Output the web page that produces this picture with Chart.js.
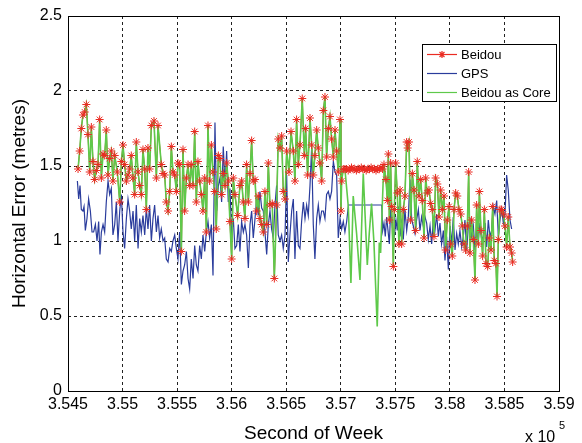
<!DOCTYPE html>
<html>
<head>
<meta charset="utf-8">
<script src="https://cdn.jsdelivr.net/npm/chart.js@4.4.1/dist/chart.umd.min.js"></script>
<style>
  html, body { margin: 0; padding: 0; background: #fff; }
  canvas { display: block; }
</style>
</head>
<body>
<canvas id="horiz_error" width="582" height="443"></canvas>
<script>
const xTickLabels = ["3.545","3.55","3.555","3.56","3.565","3.57","3.575","3.58","3.585","3.59"];
const yTickLabels = ["0","0.5","1","1.5","2","2.5"];
const seriesNames = ["Beidou", "GPS", "Beidou as Core"];

// Beidou (seconds of week, metres)
const beidouTime = [
  354592,354607,354622,354637,354653,354668,354683,354699,354714,354729,
  354744,354760,354775,354790,354806,354821,354836,354851,354867,354882,
  354897,354912,354928,354952,354974,354989,355004,355019,355035,355050,
  355065,355080,355096,355111,355126,355142,355157,355172,355187,355203,
  355218,355233,355248,355264,355288,355310,355325,355355,355371,355386,
  355401,355417,355432,355447,355462,355478,355493,355508,355523,355539,
  355554,355569,355585,355600,355615,355630,355646,355661,355676,355691,
  355707,355722,355737,355753,355768,355783,355798,355814,355829,355844,
  355859,
  355878,355893,355908,355924,355939,355954,355969,355984,356000,356015,
  356030,356055,356076,356091,356107,356122,356137,356153,356168,356183,
  356198,356214,356229,356244,356259,356275,356290,356305,356321,356336,
  356351,356372,356391,356412,356427,356443,356458,356473,356489,356504,
  356525,356544,356565,356580,356595,356611,356626,356647,356666,356678,
  356696,356718,356733,356748,356763,356779,356794,356809,356825,356840,
  356855,356870,356886,356901,356916,356932,356947,356962,356977,356993,
  357002,357008,357023,
  357038,357053,357068,357083,357098,357113,357128,357143,357158,357173,
  357188,357203,357218,357233,357248,357263,357278,357293,357308,357323,
  357338,357353,357368,357383,
  357396,357414,357427,357436,357445,357457,357466,357482,357491,357503,
  357518,357533,357543,357558,357573,357588,357604,357613,357625,357640,
  357656,357671,357686,357701,357717,357732,357747,357763,357778,357793,
  357808,357824,357839,357854,357869,357885,357900,357915,357931,357946,
  357961,357976,357992,358007,358022,358038,358053,358068,358083,358099,
  358114,358129,358144,358160,358172,358184,358199,358215,358230,358245,
  358261,358270,358285,358300,358316,358331,358346,358361,358377,358392,
  358407,358422,358432,358444,358459,358474,358490,358505,358520,358535,
  358551,358566,358575
];
const beidouErr = [
  1.48,1.60,1.75,1.84,1.86,1.91,1.71,1.46,1.76,1.53,
  1.41,1.47,1.51,1.81,1.42,1.58,1.57,1.74,1.44,1.55,
  1.60,1.40,1.57,1.46,1.26,1.53,1.64,1.51,1.40,1.44,
  1.48,1.57,1.42,1.31,1.66,1.46,1.37,1.31,1.61,1.48,
  1.21,1.62,1.48,1.77,1.80,1.42,1.77,1.51,1.45,1.44,
  1.26,1.20,1.33,1.63,1.46,1.44,1.33,1.52,1.51,0.93,
  1.61,1.20,1.42,1.51,1.37,1.51,1.37,1.73,1.26,1.53,
  1.40,1.31,1.20,1.42,1.06,1.77,1.40,1.64,1.46,1.33,
  1.08,
  1.57,1.55,1.31,1.45,1.37,1.52,1.40,1.13,0.88,1.42,
  1.31,1.17,1.37,1.40,1.26,1.15,1.51,1.26,1.45,1.67,
  1.40,1.41,1.20,1.30,1.15,1.11,1.06,1.33,1.11,1.52,
  1.24,1.25,0.75,1.24,1.68,1.62,1.70,1.33,1.28,1.60,
  1.46,1.73,1.60,1.40,1.81,1.51,1.64,1.95,1.57,1.75,
  1.44,1.82,1.64,1.44,1.57,1.74,1.62,1.52,1.40,1.87,
  1.96,1.56,1.75,1.83,1.68,1.56,1.74,1.60,1.46,1.81,
  1.20,1.40,1.48,
  1.48,1.48,1.47,1.48,1.49,1.48,1.48,1.47,1.48,1.48,
  1.49,1.48,1.48,1.47,1.48,1.48,1.49,1.48,1.48,1.47,
  1.48,1.48,1.49,1.48,
  1.51,1.41,1.27,1.58,1.14,1.52,1.23,0.83,1.21,1.52,
  1.32,0.98,1.34,0.98,1.21,1.30,1.66,1.62,1.66,1.14,
  1.45,1.34,1.07,1.53,1.30,1.41,1.27,1.02,1.42,1.32,
  1.34,1.25,1.21,1.03,1.42,1.38,1.16,1.34,1.21,1.30,
  0.94,1.14,1.23,0.98,0.90,1.21,1.32,1.30,1.21,1.18,
  1.10,0.98,0.94,1.10,1.46,0.92,1.14,1.01,0.74,1.24,
  0.98,1.33,1.07,0.90,1.21,0.85,0.83,1.02,0.94,1.23,
  0.87,0.85,0.63,1.01,1.21,1.21,1.18,1.10,0.96,1.16,
  0.96,0.92,0.86
];

// GPS
const gpsTime = [
  354586,354598,354610,354622,354637,354647,354659,354674,354689,354705,
  354720,354735,354751,354766,354781,354793,354806,354821,354836,354851,
  354867,354882,354897,354912,354928,354943,354958,354974,354989,355004,
  355019,355035,355050,355065,355080,355096,355111,355126,355142,355157,
  355172,355187,355203,355218,355233,355248,355264,355279,355294,355310,
  355325,355340,355355,355371,355386,355401,355417,355432,355447,355462,
  355478,355493,355508,355523,355539,355554,355569,355585,355600,355615,
  355630,355646,355661,355676,355691,355707,355722,355737,355753,355768,
  355783,355798,355814,355829,355847,
  355862,355878,355893,355908,355923,355939,355954,355969,355984,356000,
  356015,356030,356046,356061,356076,356091,356107,356122,356137,356153,
  356168,356183,356198,356214,356229,356244,356259,356275,356290,356305,
  356321,356336,356351,356366,356382,356397,356412,356427,356443,356458,
  356473,356489,356504,356519,356534,356550,356565,356580,356595,356611,
  356626,356641,356657,356672,356687,356702,356718,356733,356748,356763,
  356779,356794,356809,356825,356840,356855,356870,356886,356901,356916,
  356932,356947,356962,356977,356993,357008,357023,357038,357054,357070,
  357375,
  357384,357396,357408,357420,357433,357445,357457,357469,357482,357494,
  357506,357518,357530,357543,357558,357573,357588,357604,357619,357634,
  357650,357665,357680,357695,357711,357726,357741,357756,357772,357787,
  357802,357818,357833,357848,357863,357879,357894,357909,357924,357940,
  357955,357970,357986,358001,358016,358031,358047,358062,358077,358092,
  358108,358123,358138,358154,358169,358184,358199,358215,358230,358245,
  358261,358276,358291,358306,358322,358337,358352,358367,358383,358398,
  358413,358429,358444,358459,358474,358490,358505,358520,358535,358551,
  358566
];
const gpsErr = [
  1.40,1.28,1.37,1.21,1.20,1.23,1.07,1.15,1.28,1.20,
  1.06,1.06,1.11,1.00,1.13,0.91,1.06,1.11,1.06,1.26,
  1.40,1.31,1.35,1.04,1.11,1.26,1.00,1.20,1.31,1.06,
  0.95,1.15,1.28,1.20,1.08,1.20,1.00,1.24,0.95,1.15,
  1.06,1.17,1.04,1.22,1.08,1.24,1.00,1.15,1.24,1.06,
  1.17,1.02,1.08,1.00,1.02,0.88,0.86,0.95,0.93,1.00,
  1.04,0.95,0.88,1.06,0.71,0.80,0.84,0.93,0.75,0.68,
  0.88,0.75,0.97,0.84,0.80,0.97,0.88,1.04,0.93,1.06,
  1.13,1.02,1.11,0.77,1.79,
  1.20,1.37,1.42,1.26,1.63,1.37,1.60,1.26,1.35,1.04,
  1.15,0.95,0.97,1.11,0.93,1.13,1.06,1.11,1.04,0.82,
  1.11,1.20,1.02,1.15,1.28,1.17,1.33,1.22,1.20,1.06,
  0.91,1.11,1.20,1.08,1.02,1.24,1.37,1.04,1.00,1.04,
  0.95,1.04,1.44,0.86,1.04,1.20,1.28,0.88,1.20,0.97,
  0.95,1.13,1.26,1.15,1.24,1.17,1.37,1.62,1.11,0.88,
  1.15,1.24,1.13,1.20,1.20,1.15,1.31,1.33,1.28,1.33,
  1.53,1.46,1.44,1.02,1.15,1.08,1.13,1.06,1.13,1.24,
  1.24,
  1.07,1.12,1.03,1.16,1.07,0.98,1.21,1.14,1.01,1.05,
  1.14,1.07,1.23,1.03,1.12,1.01,1.21,1.07,1.16,1.41,
  1.14,1.10,1.05,1.14,1.21,1.07,1.16,1.10,1.16,1.12,
  1.01,1.10,0.98,1.14,1.07,1.18,1.03,1.12,0.98,1.07,
  0.87,1.03,0.81,1.10,0.98,1.16,0.94,1.05,0.98,1.07,
  0.96,1.03,1.14,0.94,1.10,1.14,1.03,1.10,0.94,1.07,
  1.01,1.12,1.01,1.03,1.12,0.96,1.14,1.03,1.07,1.23,
  1.18,1.27,1.03,1.14,1.21,1.12,1.18,1.44,1.34,1.14,
  1.08
];

// Beidou as Core: same as Beidou except where Beidou sits flat
const coreGapTime = [357038,357069,357093,357114,357145,357176,357206,357243,357261,357282,357304,357334,357353,357365,357389];
const coreGapErr  = [1.48,1.23,0.72,1.30,1.05,0.74,1.45,0.84,1.05,1.25,0.99,0.43,0.99,0.92,1.41];

function to_points(ts, vs){
    return ts.map((t, i) => ({x: t, y: vs[i]}));
}

const beidou_pts = to_points(beidouTime, beidouErr);
const gps_pts = to_points(gpsTime, gpsErr);
const core_pts = beidou_pts
    .filter(p => p.x < coreGapTime[0] || p.x > coreGapTime[coreGapTime.length - 1])
    .concat(to_points(coreGapTime, coreGapErr))
    .sort((a, b) => a.x - b.x);

const RED = "#ea2b22";
const BLUE = "#2a3c9c";
const GREEN = "#5ec94a";
const FONT = "'Liberation Sans', Arial, Helvetica, sans-serif";

Chart.defaults.font.family = FONT;
Chart.defaults.color = "#000";

const framePlugin = {
    id: "frame",
    afterDatasetsDraw(chart){
        const a = chart.chartArea;
        const ctx = chart.ctx;
        ctx.save();
        ctx.strokeStyle = "#000";
        ctx.lineWidth = 1;
        ctx.strokeRect(Math.round(a.left) + 0.5, Math.round(a.top) + 0.5,
                       Math.round(a.right - a.left), Math.round(a.bottom - a.top));
        ctx.restore();
    }
};

const legendPlugin = {
    id: "matlabLegend",
    afterDraw(chart){
        const a = chart.chartArea;
        const ctx = chart.ctx;
        const w = 134, h = 57;
        const x0 = Math.round(a.right) - 3 - w, y0 = Math.round(a.top) + 28;
        ctx.save();
        ctx.fillStyle = "#fff";
        ctx.fillRect(x0, y0, w, h);
        ctx.strokeStyle = "#000";
        ctx.lineWidth = 1;
        ctx.strokeRect(x0 + 0.5, y0 + 0.5, w, h);
        const cols = [RED, BLUE, GREEN];
        ctx.font = "13px " + FONT;
        ctx.textBaseline = "middle";
        for (let i = 0; i < 3; i++){
            const y = y0 + 10.5 + i * 19;
            ctx.strokeStyle = cols[i];
            ctx.lineWidth = 1.2;
            ctx.beginPath();
            ctx.moveTo(x0 + 5, y);
            ctx.lineTo(x0 + 35, y);
            ctx.stroke();
            if (i === 0){
                ctx.fillStyle = RED;
                Chart.helpers.drawPoint(ctx, {pointStyle: "star", radius: 3.5, borderWidth: 1, rotation: 0}, x0 + 20, y);
            }
            ctx.fillStyle = "#000";
            ctx.fillText(seriesNames[i], x0 + 39, y + 1);
        }
        // x 10^5 multiplier
        ctx.font = "16px " + FONT;
        ctx.textBaseline = "alphabetic";
        ctx.fillText("x 10", 525, 442);
        ctx.font = "11px " + FONT;
        ctx.fillText("5", 559, 429);
        ctx.restore();
    }
};

new Chart(document.getElementById("horiz_error"), {
    type: "line",
    data: {
        datasets: [
            {
                label: seriesNames[0],
                data: beidou_pts,
                borderColor: RED,
                borderWidth: 1,
                pointRadius: 0,
                order: 4
            },
            {
                label: seriesNames[1],
                data: gps_pts,
                borderColor: BLUE,
                borderWidth: 1.2,
                pointRadius: 0,
                order: 3
            },
            {
                label: seriesNames[2],
                data: core_pts,
                borderColor: GREEN,
                borderWidth: 1.6,
                pointRadius: 0,
                order: 2
            },
            {
                label: "Beidou markers",
                data: beidou_pts,
                showLine: false,
                pointStyle: "star",
                pointRadius: 4,
                pointBorderWidth: 1,
                pointBorderColor: RED,
                pointBackgroundColor: RED,
                order: 1
            }
        ]
    },
    options: {
        responsive: false,
        animation: false,
        devicePixelRatio: 1,
        layout: { padding: { top: 16, right: 23, left: 0, bottom: 0 } },
        plugins: {
            legend: { display: false },
            tooltip: { enabled: false }
        },
        scales: {
            x: {
                type: "linear",
                min: 354500,
                max: 359000,
                afterFit(scale){ scale.height = 52; },
                ticks: {
                    stepSize: 500,
                    autoSkip: false,
                    maxRotation: 0,
                    padding: 4,
                    font: { size: 16 },
                    callback: (v, i) => xTickLabels[i]
                },
                grid: { color: "#222", lineWidth: 1, drawTicks: false },
                border: { display: false, dash: [3, 3] },
                title: {
                    display: true,
                    text: "Second of Week",
                    font: { size: 19 },
                    padding: { top: 0, bottom: -2 }
                }
            },
            y: {
                min: 0,
                max: 2.5,
                afterFit(scale){ scale.width = 68; },
                ticks: {
                    stepSize: 0.5,
                    padding: 6,
                    font: { size: 16 },
                    callback: (v, i) => yTickLabels[i]
                },
                grid: { color: "#222", lineWidth: 1, drawTicks: false },
                border: { display: false, dash: [3, 3] },
                title: {
                    display: true,
                    text: "Horizontal Error (metres)",
                    font: { size: 19 },
                    padding: { top: 8, bottom: 0 }
                }
            }
        }
    },
    plugins: [framePlugin, legendPlugin]
});
</script>
</body>
</html>
